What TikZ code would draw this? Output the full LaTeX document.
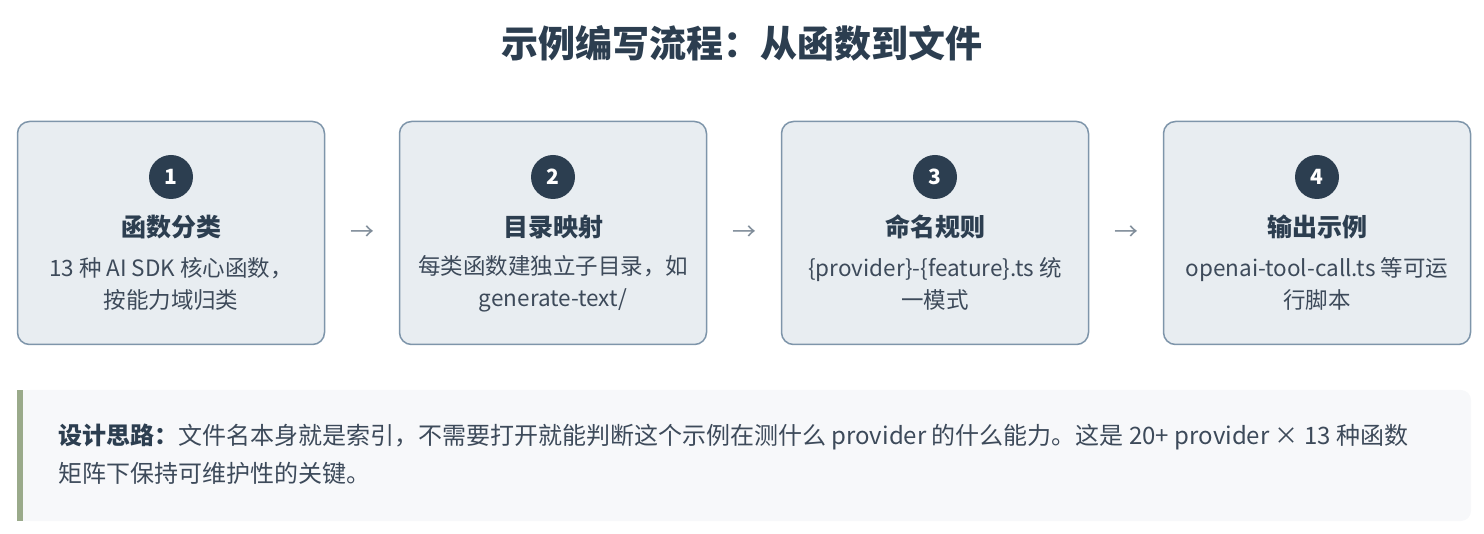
\documentclass[tikz,border=0pt]{standalone}
\usepackage{fontspec}
\setmainfont{Noto Sans CJK SC}
\usetikzlibrary{positioning}

\definecolor{darkslate}{HTML}{2C3E50}
\definecolor{bodytext}{HTML}{3D4A5A}
\definecolor{boxfill}{HTML}{E8EDF1}
\definecolor{boxline}{HTML}{7E95AA}
\definecolor{arrowgray}{HTML}{7F8C99}
\definecolor{notefill}{HTML}{F7F8FA}
\definecolor{notebar}{HTML}{9AAA8A}

\tikzset{
  stepbox/.style={draw=boxline, line width=1.5pt, fill=boxfill, rounded corners=12pt,
    minimum width=307pt, minimum height=223pt},
  stepnum/.style={circle, fill=darkslate, text=white, minimum size=44pt, inner sep=0pt,
    font=\fontsize{21}{21}\selectfont\bfseries},
  steptitle/.style={text=darkslate, font=\fontsize{25}{25}\selectfont\bfseries},
  stepdesc/.style={text=bodytext, align=center, font=\fontsize{22.5}{32}\selectfont},
  steparrow/.style={text=arrowgray, font=\fontsize{24}{24}\selectfont},
}

\begin{document}
\begin{tikzpicture}[x=1pt,y=-1pt]
  \useasboundingbox (0,0) rectangle (1484,534);
  \node[text=darkslate, font=\fontsize{37}{37}\selectfont\bfseries] (title) at (742,43) {示例编写流程：从函数到文件};

  % four steps
  \node[stepbox] (box1) at (171,233) {};
  \node[stepnum] (num1) at (171,177) {1};
  \node[steptitle] (title1) at (171,227) {函数分类};
  \node[stepdesc] (desc1) at (171,284) {13 种 AI SDK 核心函数，\\按能力域归类};

  \node[stepbox] (box2) at (553,233) {};
  \node[stepnum] (num2) at (553,177) {2};
  \node[steptitle] (title2) at (553,227) {目录映射};
  \node[stepdesc] (desc2) at (553,284) {每类函数建独立子目录，如\\generate-text/};

  \node[stepbox] (box3) at (935,233) {};
  \node[stepnum] (num3) at (935,177) {3};
  \node[steptitle] (title3) at (935,227) {命名规则};
  \node[stepdesc] (desc3) at (935,284) {\{provider\}-\{feature\}.ts 统\\一模式};

  \node[stepbox] (box4) at (1317,233) {};
  \node[stepnum] (num4) at (1317,177) {4};
  \node[steptitle] (title4) at (1317,227) {输出示例};
  \node[stepdesc] (desc4) at (1317,284) {openai-tool-call.ts 等可运\\行脚本};

  % arrows between steps
  \node[steparrow] (arr12) at (362,233) {→};
  \node[steparrow] (arr23) at (744,233) {→};
  \node[steparrow] (arr34) at (1126,233) {→};

  % note
  \fill[notefill, rounded corners=10pt] (20,390) rectangle (1471,521);
  \fill[notefill] (20,390) rectangle (40,521);
  \fill[notebar] (17,390) rectangle (23,521);
  \node[anchor=north west, inner sep=0pt, text=bodytext, align=left,
    font=\fontsize{24}{38}\selectfont] (note) at (58,424)
    {\textcolor{darkslate}{\bfseries 设计思路：}文件名本身就是索引，不需要打开就能判断这个示例在测什么 provider 的什么能力。这是 20+ provider × 13 种函数\\矩阵下保持可维护性的关键。};
\end{tikzpicture}
\end{document}
